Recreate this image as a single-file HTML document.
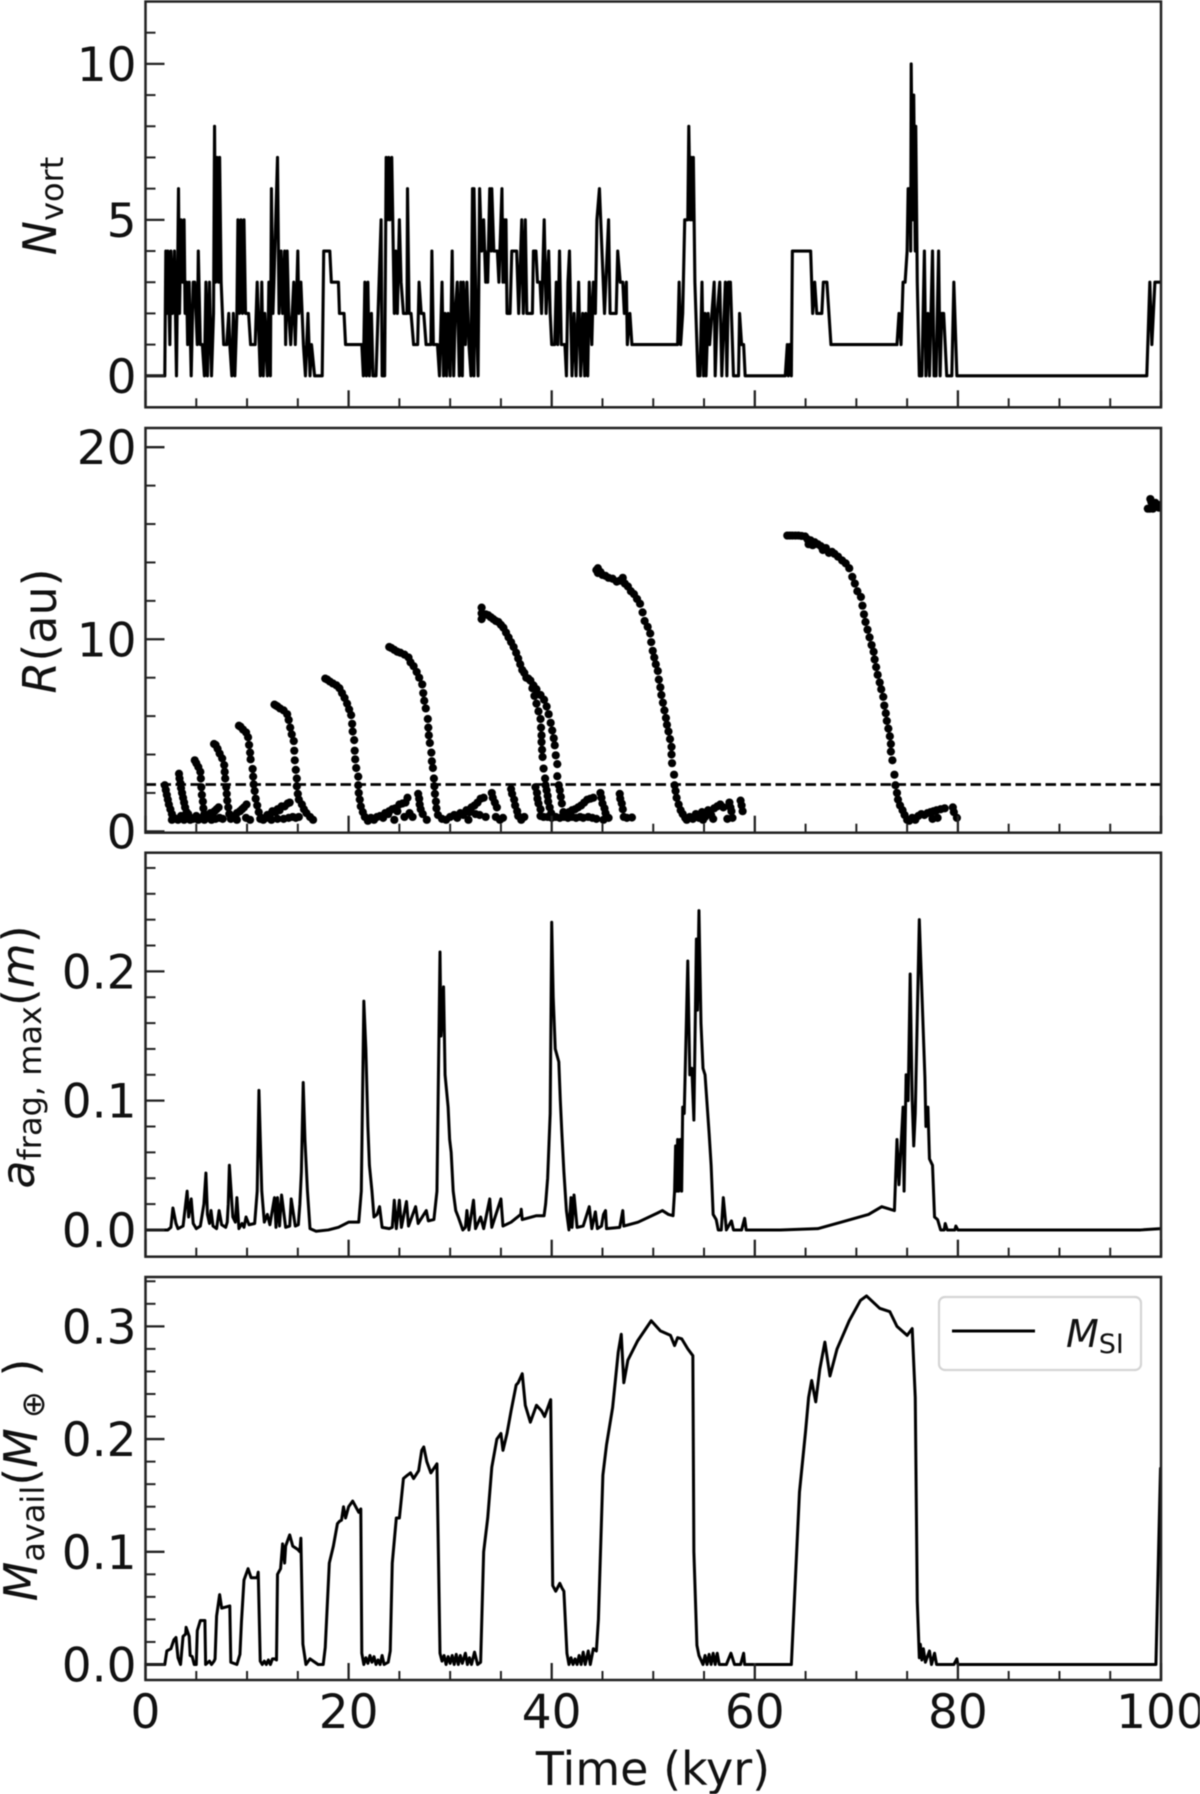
<!DOCTYPE html>
<html lang="en">
<head>
<meta charset="utf-8">
<title>Vortex evolution time series</title>
<style>
html,body{margin:0;padding:0;background:#fff;}
#chart{display:block;width:1200px;height:1794px;filter:blur(0.6px);}
text{font-family:"DejaVu Sans","Liberation Sans",sans-serif;fill:#111;}
</style>
</head>
<body>
<svg id="chart" xmlns="http://www.w3.org/2000/svg" width="1200" height="1794" viewBox="0 0 1200 1794"></svg>
<script>
const xTickLabels = [0, 20, 40, 60, 80, 100];
const xMinorTicks = [5, 10, 15, 25, 30, 35, 45, 50, 55, 65, 70, 75, 85, 90, 95];
const nvortTicks = [0, 5, 10];
const nvortMinorTicks = [1, 2, 3, 4, 6, 7, 8, 9, 11];
const radiusTicks = [0, 10, 20];
const radiusMinorTicks = [2, 4, 6, 8, 12, 14, 16, 18];
const afragTicks = [0, 0.1, 0.2];
const afragMinorTicks = [0.02, 0.04, 0.06, 0.08, 0.12, 0.14, 0.16, 0.18, 0.22, 0.24, 0.26, 0.28];
const massTicks = [0, 0.1, 0.2, 0.3];
const massMinorTicks = [0.02, 0.04, 0.06, 0.08, 0.12, 0.14, 0.16, 0.18, 0.22, 0.24, 0.26, 0.28, 0.32, 0.34];
const snowLineRadius = 2.44;

const nvortSeries = [[0,0],[1.9,0],[2,4],[2.1,2],[2.2,4],[2.4,1],[2.5,4],[2.65,2],[2.85,4],[3.05,0],[3.25,6],[3.35,2],[3.5,5],[3.65,3],[3.8,5],[3.9,2],[4.05,3],[4.15,1],[4.3,3],[4.5,0],[4.7,3],[4.85,3],[5.1,1],[5.2,4],[5.4,1],[5.6,1],[5.8,0],[5.95,3],[6.1,0],[6.3,3],[6.5,0],[6.7,2],[6.8,8],[6.9,3],[7.05,7],[7.2,3],[7.3,7],[7.45,3],[7.7,1],[8,1],[8.2,2],[8.3,1],[8.5,0],[8.65,2],[8.8,0],[9,2],[9.1,5],[9.25,2],[9.4,5],[9.55,2],[9.7,5],[9.85,2],[10.15,2],[10.35,1],[10.8,1],[11,3],[11.3,0],[11.45,3],[11.6,0],[11.75,2],[12,0],[12.15,3],[12.3,0],[12.4,6],[12.55,2],[12.65,3],[13,7],[13.15,2],[13.35,4],[13.5,2],[13.7,4],[13.8,1],[13.95,4],[14.1,2],[14.3,1],[14.45,2],[14.6,3],[14.75,1],[15,4],[15.1,2],[15.3,3],[15.55,1],[15.75,0],[16,2],[16.2,0],[16.35,1],[16.65,0],[17.4,0],[17.55,4],[18.15,4],[18.3,3],[19,3],[19.1,2],[19.55,2],[19.7,1],[21.3,1],[21.45,0],[21.6,3],[21.75,0],[21.9,3],[22.05,0],[22.25,2],[22.4,0],[22.7,0],[23.2,5],[23.3,0],[23.55,0],[23.7,7],[23.8,5],[23.95,7],[24.05,5],[24.25,7],[24.4,4],[24.5,2],[24.65,4],[24.8,2],[25,5],[25.17,3],[25.4,2],[25.75,2],[25.8,6],[25.96,2],[26.15,2],[26.4,1],[26.8,1],[26.94,3],[27.15,2],[27.4,2],[27.63,1],[28.1,1],[28.2,4],[28.35,1],[28.75,1],[28.95,0],[29.2,3],[29.35,0],[29.5,2],[29.65,0],[29.8,2],[30,0],[30.2,4],[30.35,0],[30.5,2],[30.7,3],[30.9,0],[31.05,3],[31.2,0],[31.3,3],[31.5,1],[31.65,3],[31.85,1],[32.05,0],[32.2,6],[32.35,0],[32.35,6],[32.55,2],[32.75,0],[32.9,6],[33.1,4],[33.3,5],[33.5,3],[33.45,4],[33.7,3],[33.9,6],[34.05,4],[34.1,6],[34.3,4],[34.65,4],[34.8,3],[35.1,6],[35.2,3],[35.3,5],[35.4,3],[35.5,5],[35.6,2],[35.9,2],[36.07,4],[36.55,4],[36.75,2],[37.05,5],[37.2,2],[37.4,5],[37.55,2],[38.1,2],[38.2,4],[38.45,4],[38.6,3],[38.85,3],[39,2],[39.26,5],[39.45,2],[39.7,4],[39.85,2],[40,1],[40.3,1],[40.45,3],[40.6,1],[40.77,4],[40.95,1],[41.3,1],[41.45,0],[41.6,3],[41.75,4],[42,0],[42.2,2],[42.4,0],[42.65,3],[42.85,0],[43.05,2],[43.25,0],[43.35,2],[43.55,0],[43.7,3],[43.95,1],[44.1,3],[44.3,2],[44.45,5],[44.7,6],[44.95,4],[45.2,2],[45.6,5],[45.75,2],[46.35,2],[46.5,4],[46.75,3],[47,3],[47.15,2],[47.35,3],[47.45,1],[47.7,2],[47.9,1],[52.3,1],[52.4,1],[52.55,3],[52.7,1],[52.9,2],[53.1,5],[53.4,5],[53.5,8],[53.65,5],[53.75,7],[53.85,5],[53.95,7],[54.1,3],[54.4,0],[54.6,0],[54.8,3],[54.95,0],[55.1,2],[55.2,0],[55.4,2],[55.55,1],[56,3],[56.1,0],[56.3,2],[56.55,3],[56.75,0],[57.1,3],[57.25,0],[57.4,3],[57.6,3],[57.8,1],[57.9,0],[58.4,0],[58.5,2],[58.7,1],[58.9,1],[59.05,0],[63,0],[63.2,1],[63.3,0],[63.4,1],[63.6,0],[63.7,4],[65.5,4],[65.6,3],[65.7,2],[65.9,3],[66.1,2],[66.6,2],[66.75,3],[67.1,3],[67.3,2],[67.5,1],[74,1],[74.2,2],[74.4,1],[74.6,3],[74.8,3],[75,4],[75.1,6],[75.3,6],[75.35,4],[75.4,10],[75.55,5],[75.65,9],[75.8,4],[75.85,8],[76,3],[76.2,0],[76.45,0],[76.7,4],[76.85,0],[77.05,2],[77.2,0],[77.5,4],[77.65,0],[77.85,0],[78.1,4],[78.25,0],[78.4,2],[78.6,2],[78.9,0],[79.4,0],[79.6,3],[79.9,0],[98.6,0],[98.9,3],[99.1,1],[99.4,3],[100,3]];

const radiusPoints = [
[1.9,2.4],[2,2.15],[2.1,1.9],[2.2,1.65],[2.3,1.4],[2.45,1.15],[2.6,0.9],[2.8,0.7],[3,0.65],
[3.3,3],[3.35,2.75],[3.45,2.5],[3.5,2.25],[3.6,2],[3.7,1.75],[3.8,1.5],[3.9,1.25],[4.05,1],[4.25,0.8],[4.5,0.65],
[4.85,3.7],[5,3.55],[5.2,3.35],[5.4,3.1],[5.45,2.75],[5.5,2.3],[5.55,1.9],[5.65,1.55],[5.7,1.2],[5.8,0.9],[6,0.7],
[6.75,4.55],[6.9,4.5],[7.1,4.3],[7.3,4.05],[7.55,3.8],[7.75,3.45],[7.8,3.1],[7.85,2.75],[7.95,2.3],[8,1.95],[8.05,1.6],[8.15,1.25],[8.25,0.9],[8.4,0.65],
[9.2,5.5],[9.35,5.45],[9.6,5.3],[9.9,5.15],[10.1,4.9],[10.2,4.5],[10.3,4.1],[10.35,3.75],[10.55,3.25],[10.6,2.85],[10.65,2.45],[10.75,2.1],[10.85,1.7],[11,1.35],[11.15,1],[11.4,0.7],
[12.7,6.6],[12.85,6.55],[13,6.5],[13.25,6.4],[13.6,6.3],[13.95,6.1],[14.1,5.8],[14.25,5.4],[14.4,5.05],[14.6,4.7],[14.65,4.2],[14.7,3.7],[14.8,3.2],[14.9,2.75],[14.9,2.35],[15,1.95],[15.1,1.65],[15.4,1.4],[15.6,1.15],[15.85,0.95],[16.2,0.75],[16.5,0.6],
[17.7,7.95],[17.9,7.9],[18.15,7.8],[18.45,7.7],[18.8,7.6],[19.1,7.45],[19.35,7.2],[19.6,6.95],[19.85,6.65],[20.05,6.35],[20.25,6.05],[20.35,5.6],[20.4,5.2],[20.55,4.75],[20.6,4.2],[20.65,3.75],[20.75,3.3],[20.95,2.85],[20.95,2.4],[21,2],[21.1,1.65],[21.2,1.3],[21.4,1],[21.6,0.75],
[24,9.6],[24.2,9.55],[24.5,9.45],[24.8,9.35],[25.1,9.3],[25.5,9.2],[25.9,9.05],[26.1,8.8],[26.4,8.6],[26.7,8.3],[26.95,8],[27.25,7.65],[27.35,7.2],[27.45,6.8],[27.6,6.4],[27.8,5.85],[27.85,5.4],[27.9,5],[28,4.6],[28.15,4.1],[28.2,3.65],[28.3,3.3],[28.4,2.75],[28.45,2.35],[28.5,1.95],[28.6,1.55],[28.65,1.2],[28.8,0.85],
[33.1,11.65],[33.1,11.35],[33.1,11.05],[33.3,11.3],[33.5,11.3],[33.75,11.25],[34,11.15],[34.25,11.05],[34.5,10.95],[34.75,10.9],[35,10.75],[35.25,10.6],[35.5,10.35],[35.75,10.1],[36,9.85],[36.25,9.6],[36.5,9.3],[36.7,9],[36.9,8.7],[37.1,8.4],[37.3,8.25],[37.5,8],[37.7,7.95],[37.9,7.85],[38.1,7.45],[38.3,7.05],[38.5,6.65],[38.7,6.25],[38.9,5.85],[38.95,5.4],[39,5],[39,4.65],[39.05,4.25],[39.1,3.87],[39.2,3.27],[39.35,2.75],[39.4,2.4],[39.5,2.14],[39.6,1.85],[39.65,1.55],[39.8,1.25],[39.95,0.95],
[38.2,7.6],[38.5,7.4],[38.9,7.1],[39.25,6.85],[39.5,6.5],[39.7,6.1],[39.9,5.65],[40.05,5.25],[40.2,4.85],[40.3,4.48],[40.4,3.96],[40.55,3.5],[40.55,2.87],[40.7,2.4],[40.8,2.14],[40.9,1.8],[41,1.45],[41.15,1],[41.3,0.8],
[44.4,13.6],[44.55,13.45],[44.55,13.7],[44.8,13.5],[45,13.35],[45.3,13.3],[45.6,13.2],[46,13.15],[46.4,13],[46.7,13.05],[47,13.2],[47.2,12.9],[47.5,12.75],[47.8,12.5],[48.1,12.35],[48.4,12.1],[48.7,11.85],[48.95,11.4],[49.15,10.95],[49.45,10.65],[49.7,10.3],[49.8,9.85],[49.95,9.4],[50.1,9.05],[50.25,8.7],[50.45,8.35],[50.55,7.9],[50.7,7.5],[50.8,7.1],[50.95,6.7],[51.1,6.3],[51.25,5.9],[51.35,5.55],[51.5,5.2],[51.65,4.8],[51.8,4.4],[51.8,4],[51.85,3.55],[52.05,2.95],[52.1,2.4],[52.2,2.1],[52.3,1.75],[52.5,1.4],[52.7,1.1],[52.9,0.9],[53.15,0.7],
[63.2,15.4],[63.45,15.4],[63.7,15.4],[64,15.4],[64.3,15.4],[64.6,15.38],[64.95,15.35],[65.2,15.2],[65.3,14.95],[65.5,15.15],[65.7,14.9],[65.9,15.05],[66.2,14.95],[66.5,14.85],[66.7,14.65],[67,14.75],[67.3,14.5],[67.6,14.55],[67.85,14.45],[68.2,14.3],[68.6,14.1],[68.95,13.95],[69.3,13.7],[69.6,13.25],[69.85,12.9],[70.1,12.5],[70.45,12.2],[70.6,11.75],[70.75,11.3],[70.9,10.9],[71.1,10.5],[71.3,10.1],[71.5,9.7],[71.7,9.35],[71.8,8.95],[71.95,8.55],[72.1,8.15],[72.3,7.75],[72.45,7.4],[72.65,7],[72.75,6.55],[72.9,6.15],[73,5.75],[73.15,5.35],[73.3,4.95],[73.4,4.55],[73.4,4.15],[73.55,3.7],[73.75,2.95],[73.85,2.4],[74,2],[74.1,1.65],[74.3,1.35],[74.55,1.1],[74.75,0.85],[75,0.6],
[98.7,16.8],[98.95,17.3],[99.1,16.9],[99.3,17],[99.5,16.9],[99.7,17],[99.95,16.9],[98.9,16.8],[99.2,16.8],[99.05,17.15],[99.45,17.1],[99.8,16.85],
[2.6,0.6],[3.2,0.6],[3.5,0.8],[3.8,0.6],[4.2,0.9],[4.4,0.6],[4.7,0.65],[5,0.8],[5.2,0.6],[5.5,0.7],[5.8,0.6],
[6,0.75],[6.2,0.85],[6.4,0.95],[6.6,0.9],[6.8,1.05],[7,1.15],[7.2,1.25],[6.5,0.6],[6.9,0.65],[7.3,0.7],[7.6,0.65],
[8.5,0.75],[8.8,0.8],[9,0.95],[9.3,1.05],[9.5,1.15],[9.7,1.25],[9.95,1.4],[9,0.6],[9.9,0.7],[10.3,0.6],
[11.3,0.65],[11.6,0.6],[11.9,0.7],[12,0.85],[12.3,0.9],[12.5,1.05],[12.8,1],[13,1.15],[13.2,1.1],[13.4,1.3],[13.7,1.3],[14,1.45],[14.2,1.5],[14.5,0.75],[14.8,0.7],[15.1,0.75],[12.4,0.6],[13,0.65],[13.6,0.65],[14.1,0.7],
[21.9,0.55],[22.2,0.7],[22.5,0.6],[22.8,0.75],[23.1,0.8],[23.4,0.7],[23.6,0.95],[23.9,0.9],[24,1.05],[24.3,1.15],[24.6,1.2],[24.8,1.05],[25,1.4],[25.3,1.45],[25.6,1.5],[25.8,1.75],[26,0.95],[25.5,0.75],[26.3,0.75],[24.5,0.6],
[26.85,1.95],[26.95,1.7],[27,1.4],[27.1,1.15],[27.3,0.9],[27.7,0.6],
[29.2,0.65],[29.6,0.6],[30,0.75],[30.4,0.85],[30.7,0.7],[31,0.95],[31.3,0.85],[31.6,1.1],[31.9,1],[32.1,1.25],[32.4,1.35],[32.7,1.5],[33,1.7],[33.3,1.75],[32.5,0.9],[31.8,0.6],[32.9,0.85],[33.5,0.75],
[34.1,2],[34.2,1.75],[34.4,1.5],[34.6,1.25],[34.5,0.75],[34.9,0.6],[35.2,0.7],
[36,2.2],[36.1,1.95],[36.3,1.65],[36.4,1.35],[36.6,1.05],[36.7,0.8],[37,0.6],[37.3,0.75],
[38.4,2.3],[38.55,2],[38.6,1.7],[38.7,1.45],[38.9,1.15],[38.9,0.8],[39.2,0.75],[39.6,0.75],[40,0.7],[40.4,0.75],[40.8,0.7],[41.2,0.75],[41.6,0.7],[42,0.75],[42.4,0.7],[42.8,0.75],[43.1,0.7],[43.6,0.75],[44,0.7],[44.4,0.65],
[41.4,0.95],[41.7,1],[42,1.1],[42.3,1.15],[42.6,1.25],[42.9,1.35],[43.2,1.5],[43.5,1.65],[43.8,1.7],[44.1,1.75],
[44.8,2],[44.9,1.75],[45,1.45],[45.2,1.2],[45.3,0.95],[45.6,0.7],[45.1,0.6],
[46.7,1.95],[46.75,1.7],[46.9,1.45],[47,1.15],[47.1,0.75],[47.4,0.7],[47.9,0.72],
[53.3,0.6],[53.6,0.75],[53.9,0.65],[54.2,0.9],[54.5,0.7],[54.8,1],[55.1,0.75],[55.4,1.1],[55.7,0.85],[56,1.2],[56.3,1.3],[56.6,1.4],[56.9,1.25],[55.9,0.65],[54.9,0.6],
[57.5,1.5],[57.6,1.25],[57.7,1.05],[57.3,0.65],[57.8,0.7],[58.6,1.6],[58.7,1.35],[58.8,1.05],
[75.2,0.55],[75.5,0.7],[75.8,0.6],[76.1,0.8],[76.4,0.9],[76.7,0.85],[77,0.95],[77.3,1],[77.6,1.05],[77.9,1.1],[78.3,1.15],[78.7,1.2],[77.5,0.65],[78,0.7],[79.5,1.25],[79.6,1],[79.9,0.7]
];

const afragSeries = [[0,0],[2.2,0],[2.5,0.002],[2.7,0.017],[3,0.005],[3.2,0.001],[3.7,0.003],[4.1,0.03],[4.25,0.01],[4.5,0.024],[4.7,0.005],[5,0.001],[5.4,0.003],[5.75,0.02],[5.95,0.044],[6.1,0.012],[6.3,0.005],[6.45,0.015],[6.65,0.003],[7,0.001],[7.25,0.015],[7.5,0.004],[7.9,0.002],[8.05,0.006],[8.15,0.02],[8.26,0.05],[8.6,0.01],[8.85,0.006],[9,0.025],[9.2,0.001],[9.5,0.005],[9.7,0.002],[9.9,0.01],[10.2,0.004],[10.75,0.005],[11,0.03],[11.17,0.108],[11.45,0.03],[11.7,0.006],[12,0.012],[12.25,0.004],[12.7,0.025],[12.85,0.002],[13,0.025],[13.2,0.003],[13.4,0.027],[13.8,0.002],[14.2,0.003],[14.35,0.024],[14.75,0.003],[15.05,0.004],[15.2,0.02],[15.35,0.045],[15.53,0.114],[15.7,0.07],[15.95,0.03],[16.2,0.001],[16.8,-0.001],[18,0],[19,0.002],[20,0.006],[21,0.006],[21.25,0.03],[21.5,0.177],[21.7,0.14],[21.9,0.08],[22.05,0.05],[22.3,0.03],[22.5,0.01],[22.8,0.012],[23.05,0.018],[23.3,0.002],[24,0.001],[24.3,0.002],[24.5,0.023],[24.7,0.001],[25,0.023],[25.2,0.002],[25.7,0.022],[25.9,0.003],[26.6,0.018],[26.85,0.005],[27.65,0.015],[27.85,0.007],[28.4,0.008],[28.7,0.03],[29,0.215],[29.1,0.15],[29.35,0.188],[29.5,0.12],[29.8,0.095],[29.95,0.07],[30.1,0.06],[30.3,0.03],[30.55,0.015],[30.8,0.01],[31.25,0],[31.5,0.002],[31.65,0.015],[31.85,0],[32.3,0.023],[32.5,0.001],[33,0.01],[33.3,0.001],[33.9,0.024],[34.1,0.002],[35,0.024],[35.2,0.003],[36,0.006],[36.95,0.012],[37,0.016],[37.1,0.008],[38.5,0.011],[39.25,0.011],[39.4,0.02],[39.6,0.04],[39.85,0.09],[40,0.238],[40.15,0.18],[40.35,0.14],[40.7,0.13],[40.85,0.1],[41,0.075],[41.2,0.045],[41.45,0.015],[41.7,0],[41.9,0.025],[42,0.002],[42.2,0.027],[42.5,0.002],[43.1,0.003],[43.7,0.018],[43.95,0.001],[44.3,0.014],[44.5,0.001],[44.9,0.003],[45.1,0.012],[45.3,0.015],[45.4,0.001],[46.7,0.002],[47,0.015],[47.1,0.003],[48.5,0.006],[50.4,0.013],[50.9,0.015],[51.5,0.012],[51.95,0.011],[52.1,0.03],[52.2,0.065],[52.3,0.03],[52.4,0.07],[52.5,0.03],[52.65,0.07],[52.8,0.03],[52.9,0.095],[53.05,0.09],[53.4,0.208],[53.6,0.12],[53.8,0.125],[54,0.085],[54.25,0.225],[54.35,0.17],[54.5,0.247],[54.7,0.16],[54.9,0.125],[55.1,0.12],[55.5,0.075],[55.7,0.05],[55.9,0.012],[56.2,0.008],[56.4,0],[56.7,0],[56.9,0.025],[57.2,0],[57.7,0.007],[57.9,0],[58.7,0],[59,0.009],[59.15,0],[62.5,0],[66.2,0.001],[68.5,0.006],[71.2,0.012],[72.5,0.018],[73.75,0.015],[74,0.07],[74.2,0.035],[74.6,0.095],[74.7,0.03],[74.9,0.12],[75.1,0.1],[75.3,0.198],[75.5,0.1],[75.65,0.065],[75.8,0.09],[76.2,0.24],[76.75,0.118],[76.85,0.08],[77.05,0.095],[77.2,0.055],[77.5,0.05],[77.7,0.01],[78,0.008],[78.3,0],[78.65,0],[78.75,0.005],[78.95,0],[79.7,0],[79.8,0.003],[80,0],[98,0],[100,0.001]];

const massSeries = [[0,0],[1.9,0],[2.1,0.012],[2.5,0.014],[2.8,0.022],[3,0.024],[3.2,0.006],[3.45,0],[3.7,0.025],[3.95,0.027],[4,0.033],[4.3,0.025],[4.4,0.008],[4.6,0.007],[4.8,0],[5,0],[5.1,0.03],[5.4,0.039],[5.85,0.039],[5.92,0],[6.3,0.003],[6.5,0],[6.75,0.003],[6.85,0.005],[7,0.043],[7.3,0.062],[7.5,0.05],[8.3,0.052],[8.4,0.002],[9,0],[9.3,0.009],[9.45,0.038],[9.7,0.075],[10.1,0.085],[10.4,0.077],[11,0.077],[11.1,0.082],[11.3,0.003],[11.5,0],[11.7,0.003],[11.9,0],[12.1,0.004],[12.3,0],[12.5,0.005],[12.7,0.005],[12.9,0.004],[13,0.08],[13.3,0.085],[13.5,0.107],[13.7,0.09],[13.8,0.105],[14.2,0.115],[14.5,0.105],[15,0.102],[15.2,0.1],[15.3,0.112],[15.5,0.018],[15.8,0],[16.2,0.005],[17,0],[17.5,0],[17.7,0.015],[18.1,0.09],[18.5,0.105],[18.9,0.125],[19.1,0.127],[19.3,0.128],[19.5,0.14],[19.7,0.13],[20,0.14],[20.4,0.145],[21,0.135],[21.2,0.138],[21.3,0.01],[21.5,0],[21.7,0.006],[21.9,0.001],[22.1,0.008],[22.3,0.002],[22.5,0.007],[22.7,0],[22.9,0.004],[23.1,0],[23.3,0.008],[23.5,0],[23.9,0.002],[24.1,0.012],[24.3,0.09],[24.7,0.13],[25,0.13],[25.4,0.165],[25.8,0.168],[26.1,0.17],[26.4,0.165],[26.9,0.172],[27.2,0.19],[27.4,0.193],[27.7,0.18],[28.1,0.17],[28.7,0.178],[29,0.01],[29.2,0.003],[29.4,0.008],[29.6,0],[29.8,0.007],[30,0.001],[30.2,0.008],[30.4,0],[30.6,0.009],[30.8,0],[31,0.008],[31.2,0.001],[31.5,0.01],[31.7,0],[31.9,0.006],[32.1,0],[32.4,0.011],[32.7,0],[33,0.002],[33.3,0.1],[33.7,0.13],[34.1,0.175],[34.6,0.2],[35,0.205],[35.2,0.19],[35.6,0.205],[36,0.225],[36.5,0.248],[36.7,0.25],[37.1,0.258],[37.4,0.23],[37.9,0.215],[38.5,0.23],[39,0.225],[39.3,0.22],[39.9,0.235],[40.1,0.07],[40.4,0.065],[40.8,0.072],[41,0.068],[41.2,0.065],[41.5,0.01],[41.7,0],[41.9,0.006],[42.1,0],[42.3,0.005],[42.5,0],[42.7,0.008],[42.9,0],[43.1,0.011],[43.3,0],[43.6,0.012],[43.8,0],[44.1,0.014],[44.4,0.012],[44.6,0.04],[45.04,0.168],[45.4,0.195],[46,0.228],[46.55,0.277],[46.85,0.293],[47.1,0.25],[47.5,0.27],[48.45,0.287],[49.8,0.305],[50.7,0.296],[51.7,0.292],[52.1,0.283],[52.4,0.29],[52.8,0.289],[53.4,0.28],[53.9,0.274],[54,0.1],[54.3,0.017],[54.5,0.008],[54.9,0],[55.1,0.008],[55.3,0],[55.5,0.009],[55.7,0],[55.9,0.01],[56.1,0],[56.3,0.01],[56.5,0],[57.2,0],[57.65,0.01],[58,0],[58.6,0],[58.9,0.01],[59,0],[63.6,0],[64.4,0.153],[65,0.207],[65.3,0.237],[65.6,0.252],[66,0.233],[66.4,0.262],[66.9,0.286],[67.4,0.256],[68.1,0.28],[69.3,0.305],[70.4,0.323],[71,0.327],[72.3,0.316],[73.3,0.313],[74,0.3],[75,0.292],[75.5,0.298],[75.8,0.237],[76,0.056],[76.2,0.006],[76.3,0.018],[76.45,0.004],[76.6,0.014],[76.8,0.002],[77.2,0.012],[77.4,0],[77.7,0.01],[77.9,0],[78.4,0],[79.6,0],[79.9,0.005],[80,0],[99.5,0],[99.95,0.174],[100,0.174]];

const SVG_NS = 'http://www.w3.org/2000/svg';
const svg = document.getElementById('chart');
const plotLeft = 145.5;
const plotRight = 1161;
const xDomain = [0, 100];
function xScale(t) {
  return plotLeft + (t - xDomain[0]) / (xDomain[1] - xDomain[0]) * (plotRight - plotLeft);
}
function makeYScale(top, bottom, min, max) {
  return function (v) {
    return bottom - (v - min) / (max - min) * (bottom - top);
  };
}
function el(tag, parent) {
  const node = document.createElementNS(SVG_NS, tag);
  parent.appendChild(node);
  return node;
}
function setAttrs(node, attrs) {
  Object.keys(attrs).forEach(function (k) { node.setAttribute(k, attrs[k]); });
}
function pathFrom(points, yScale) {
  return points.map(function (p, i) {
    return (i ? 'L' : 'M') + xScale(p[0]).toFixed(2) + ' ' + yScale(p[1]).toFixed(2);
  }).join('');
}

const panels = [
  { key: 'nvort', top: 1.5, bottom: 407.3, min: -1.01, max: 12, ticks: nvortTicks, minor: nvortMinorTicks, digits: 0 },
  { key: 'radius', top: 428, bottom: 832.7, min: -0.07, max: 21, ticks: radiusTicks, minor: radiusMinorTicks, digits: 0 },
  { key: 'afrag', top: 852.7, bottom: 1256.7, min: -0.0207, max: 0.2918, ticks: afragTicks, minor: afragMinorTicks, digits: 1 },
  { key: 'mass', top: 1277, bottom: 1680, min: -0.01375, max: 0.3438, ticks: massTicks, minor: massMinorTicks, digits: 1 }
];
const scales = {};

panels.forEach(function (p, idx) {
  const yScale = makeYScale(p.top, p.bottom, p.min, p.max);
  scales[p.key] = yScale;
  const g = el('g', svg);
  
  

  const clip = el('clipPath', g);
  clip.setAttribute('id', 'clip-' + p.key);
  const clipRect = el('rect', clip);
  setAttrs(clipRect, { x: plotLeft, y: p.top, width: plotRight - plotLeft, height: p.bottom - p.top });

  const marks = el('g', g);
  marks.setAttribute('clip-path', 'url(#clip-' + p.key + ')');
  
  
  p.marks = marks;

  xMinorTicks.forEach(function (t) {
    const tick = el('line', g);
    setAttrs(tick, { x1: xScale(t), x2: xScale(t), y1: p.bottom, y2: p.bottom - 9, stroke: '#222', 'stroke-width': 2 });
    
    
  });
  xTickLabels.forEach(function (t) {
    const tick = el('line', g);
    setAttrs(tick, { x1: xScale(t), x2: xScale(t), y1: p.bottom, y2: p.bottom - 17, stroke: '#222', 'stroke-width': 2.3 });
    
    
  });
  p.minor.forEach(function (v) {
    const tick = el('line', g);
    setAttrs(tick, { x1: plotLeft, x2: plotLeft + 10, y1: yScale(v), y2: yScale(v), stroke: '#222', 'stroke-width': 2 });
    
    
  });
  p.ticks.forEach(function (v) {
    const tick = el('line', g);
    setAttrs(tick, { x1: plotLeft, x2: plotLeft + 19, y1: yScale(v), y2: yScale(v), stroke: '#222', 'stroke-width': 2.3 });
    
    
    const label = el('text', g);
    setAttrs(label, { x: 136.5, y: yScale(v) + 17, 'text-anchor': 'end', 'font-size': 47 });
    label.textContent = v.toFixed(p.digits);
    
    
  });

  const frame = el('rect', g);
  setAttrs(frame, { x: plotLeft, y: p.top, width: plotRight - plotLeft, height: p.bottom - p.top, fill: 'none', stroke: '#222', 'stroke-width': 2.5 });
  
  

  if (idx === panels.length - 1) {
    xTickLabels.forEach(function (t) {
      const label = el('text', g);
      setAttrs(label, { x: xScale(t), y: 1728, 'text-anchor': 'middle', 'font-size': 47 });
      label.textContent = String(t);
      
      
    });
  }
});

const nvortLine = el('path', panels[0].marks);
setAttrs(nvortLine, { d: pathFrom(nvortSeries, scales.nvort), fill: 'none', stroke: '#000', 'stroke-width': 3.1, 'stroke-linejoin': 'round' });



radiusPoints.forEach(function (p) {
  const dot = el('circle', panels[1].marks);
  setAttrs(dot, { cx: xScale(p[0]), cy: scales.radius(p[1]), r: 4.1, fill: '#000' });
  
  
});
const snowLine = el('line', panels[1].marks);
setAttrs(snowLine, { x1: plotLeft, x2: plotRight, y1: scales.radius(snowLineRadius), y2: scales.radius(snowLineRadius), stroke: '#000', 'stroke-width': 2.8, 'stroke-dasharray': '10.5 4.5' });



const afragLine = el('path', panels[2].marks);
setAttrs(afragLine, { d: pathFrom(afragSeries, scales.afrag), fill: 'none', stroke: '#000', 'stroke-width': 3, 'stroke-linejoin': 'round' });



const massLine = el('path', panels[3].marks);
setAttrs(massLine, { d: pathFrom(massSeries, scales.mass), fill: 'none', stroke: '#000', 'stroke-width': 3, 'stroke-linejoin': 'round' });


</script>
<script>
(function () {
  const svgRoot = document.getElementById('chart');
  const ns = 'http://www.w3.org/2000/svg';
  function rotatedLabel(name, x, y, parts) {
    const t = document.createElementNS(ns, 'text');
    t.setAttribute('transform', 'translate(' + x + ' ' + y + ') rotate(-90)');
    t.setAttribute('text-anchor', 'middle');
    t.setAttribute('font-size', '46');
    
    
    parts.forEach(function (part) {
      const s = document.createElementNS(ns, 'tspan');
      s.textContent = part[0];
      if (part[1] === 'i') { s.setAttribute('font-style', 'italic'); }
      if (part[1] === 'sub') { s.setAttribute('font-size', '32'); s.setAttribute('dy', '7'); }
      if (part[2]) { s.setAttribute('dy', part[2]); }
      t.appendChild(s);
    });
    svgRoot.appendChild(t);
  }
  rotatedLabel('nvort-y-axis-title', 56, 206, [['N', 'i'], ['vort', 'sub']]);
  rotatedLabel('radius-y-axis-title', 56, 631, [['R', 'i'], ['(au)', 'n']]);
  rotatedLabel('afrag-y-axis-title', 34, 1057, [['a', 'i'], ['frag, max', 'sub'], ['(', 'n', '-7'], ['m', 'i'], [')', 'n']]);
  rotatedLabel('mavail-y-axis-title', 37, 1480, [['M', 'i'], ['avail', 'sub'], ['(', 'n', '-7'], ['M', 'i'], [' ⊕', 'sub'], [' )', 'n', '-7']]);

  const xTitle = document.createElementNS(ns, 'text');
  xTitle.setAttribute('x', '653');
  xTitle.setAttribute('y', '1785');
  xTitle.setAttribute('text-anchor', 'middle');
  xTitle.setAttribute('font-size', '46');
  xTitle.textContent = 'Time (kyr)';
  
  
  svgRoot.appendChild(xTitle);

  const legend = document.createElementNS(ns, 'g');
  
  
  svgRoot.appendChild(legend);
  const box = document.createElementNS(ns, 'rect');
  box.setAttribute('x', '939');
  box.setAttribute('y', '1297');
  box.setAttribute('width', '202');
  box.setAttribute('height', '73');
  box.setAttribute('rx', '6');
  box.setAttribute('fill', '#fff');
  box.setAttribute('stroke', '#d4d4d4');
  box.setAttribute('stroke-width', '2.2');
  
  
  legend.appendChild(box);
  const key = document.createElementNS(ns, 'line');
  key.setAttribute('x1', '952');
  key.setAttribute('x2', '1035');
  key.setAttribute('y1', '1331');
  key.setAttribute('y2', '1331');
  key.setAttribute('stroke', '#000');
  key.setAttribute('stroke-width', '3');
  
  
  legend.appendChild(key);
  const label = document.createElementNS(ns, 'text');
  label.setAttribute('x', '1066');
  label.setAttribute('y', '1347');
  label.setAttribute('font-size', '38');
  
  
  const m = document.createElementNS(ns, 'tspan');
  m.setAttribute('font-style', 'italic');
  m.textContent = 'M';
  label.appendChild(m);
  const si = document.createElementNS(ns, 'tspan');
  si.setAttribute('font-size', '27');
  si.setAttribute('dy', '6');
  si.textContent = 'SI';
  label.appendChild(si);
  legend.appendChild(label);
})();
</script>
</body>
</html>
